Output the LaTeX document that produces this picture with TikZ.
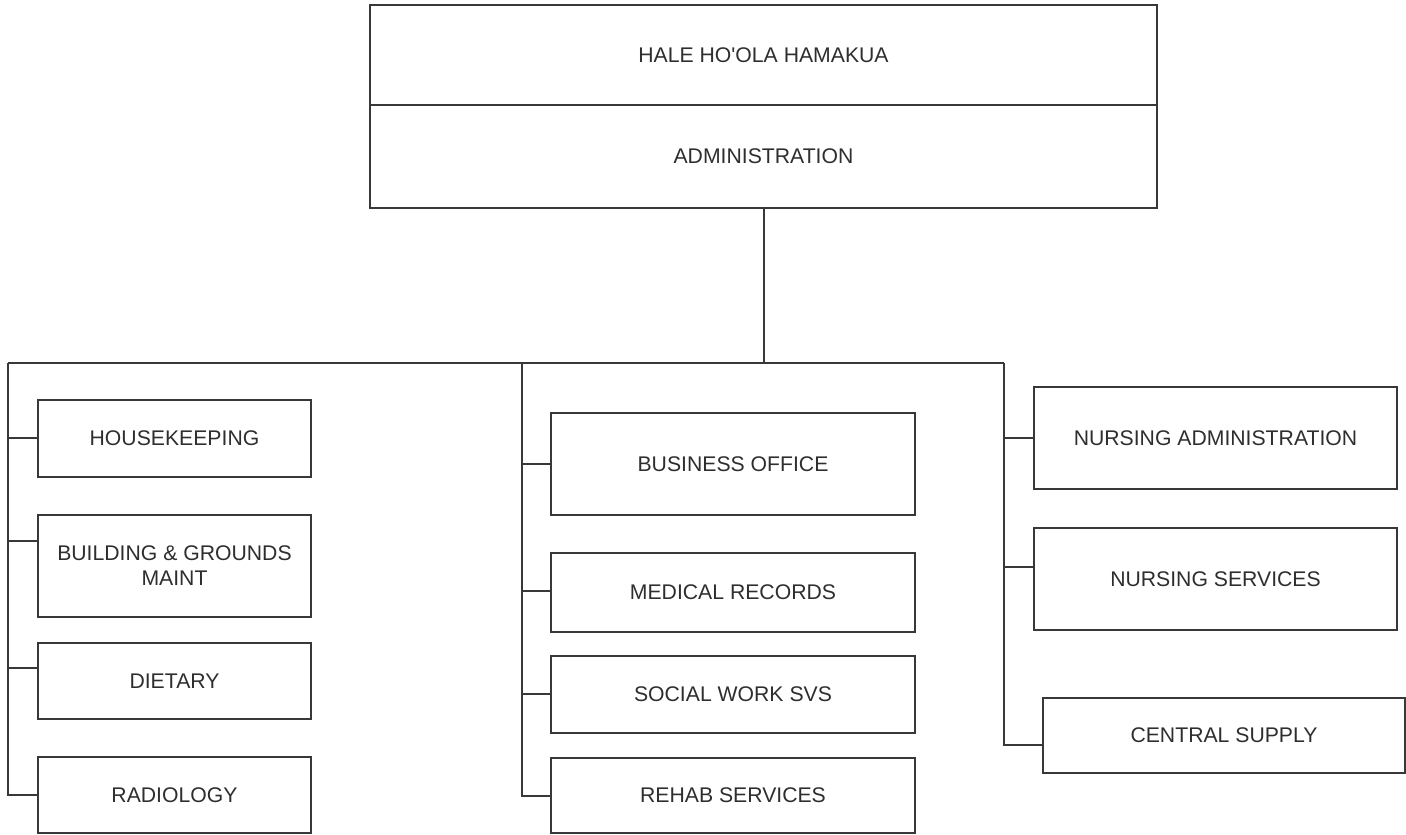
\documentclass[tikz,border=0pt]{standalone}
\usepackage{fontspec}
\setmainfont{Liberation Sans}
\begin{document}
\begin{tikzpicture}[x=1pt,y=-1pt,
  ln/.style={draw=linec,line width=2pt},
  box/.style={ln,rectangle,inner sep=0pt,align=center,text=textc,font=\fontsize{21.2}{25}\selectfont},
]
\definecolor{linec}{HTML}{383838}
\definecolor{textc}{HTML}{2E2E2E}
\useasboundingbox (0,0) rectangle (1406,835);
% top
\node[box,minimum width=787,minimum height=100] (org) at (763.5,55) {HALE HO\textquotesingle OLA HAMAKUA};
\node[box,minimum width=787,minimum height=103] (adm) at (763.5,156.5) {ADMINISTRATION};
% left
\node[box,minimum width=273,minimum height=77] (house) at (174.5,438.5) {HOUSEKEEPING};
\node[box,minimum width=273,minimum height=102] (build) at (174.5,566) {BUILDING \& GROUNDS\\MAINT};
\node[box,minimum width=273,minimum height=76] (diet) at (174.5,681) {DIETARY};
\node[box,minimum width=273,minimum height=76] (radio) at (174.5,795) {RADIOLOGY};
% middle
\node[box,minimum width=364,minimum height=102] (bus) at (733,464) {BUSINESS OFFICE};
\node[box,minimum width=364,minimum height=79] (med) at (733,592.5) {MEDICAL RECORDS};
\node[box,minimum width=364,minimum height=77] (soc) at (733,694.5) {SOCIAL WORK SVS};
\node[box,minimum width=364,minimum height=75] (rehab) at (733,795.5) {REHAB SERVICES};
% right
\node[box,minimum width=363,minimum height=102] (nadm) at (1215.5,438) {NURSING ADMINISTRATION};
\node[box,minimum width=363,minimum height=102] (nsvc) at (1215.5,579) {NURSING SERVICES};
\node[box,minimum width=362,minimum height=75] (csup) at (1224,735.5) {CENTRAL SUPPLY};
% bus lines
\coordinate (jn) at (763.5,363);
\coordinate (lt) at (8,363);
\coordinate (mt) at (522,363);
\coordinate (rt) at (1004,363);
\coordinate (l1) at (8,438);
\coordinate (l2) at (8,541);
\coordinate (l3) at (8,668);
\coordinate (l4) at (8,795);
\coordinate (m1) at (522,464);
\coordinate (m2) at (522,591);
\coordinate (m3) at (522,694);
\coordinate (m4) at (522,796);
\coordinate (r1) at (1004,438);
\coordinate (r2) at (1004,567);
\coordinate (r3) at (1004,745);
\draw[ln] (adm.south) -- (jn);
\draw[ln] (lt) -- (rt);
\draw[ln] (lt) -- (l4) -- (radio.west |- l4);
\draw[ln] (mt) -- (m4) -- (rehab.west |- m4);
\draw[ln] (rt) -- (r3) -- (csup.west |- r3);
\draw[ln] (l1) -- (house.west |- l1);
\draw[ln] (l2) -- (build.west |- l2);
\draw[ln] (l3) -- (diet.west |- l3);
\draw[ln] (m1) -- (bus.west |- m1);
\draw[ln] (m2) -- (med.west |- m2);
\draw[ln] (m3) -- (soc.west |- m3);
\draw[ln] (r1) -- (nadm.west |- r1);
\draw[ln] (r2) -- (nsvc.west |- r2);
\end{tikzpicture}
\end{document}
